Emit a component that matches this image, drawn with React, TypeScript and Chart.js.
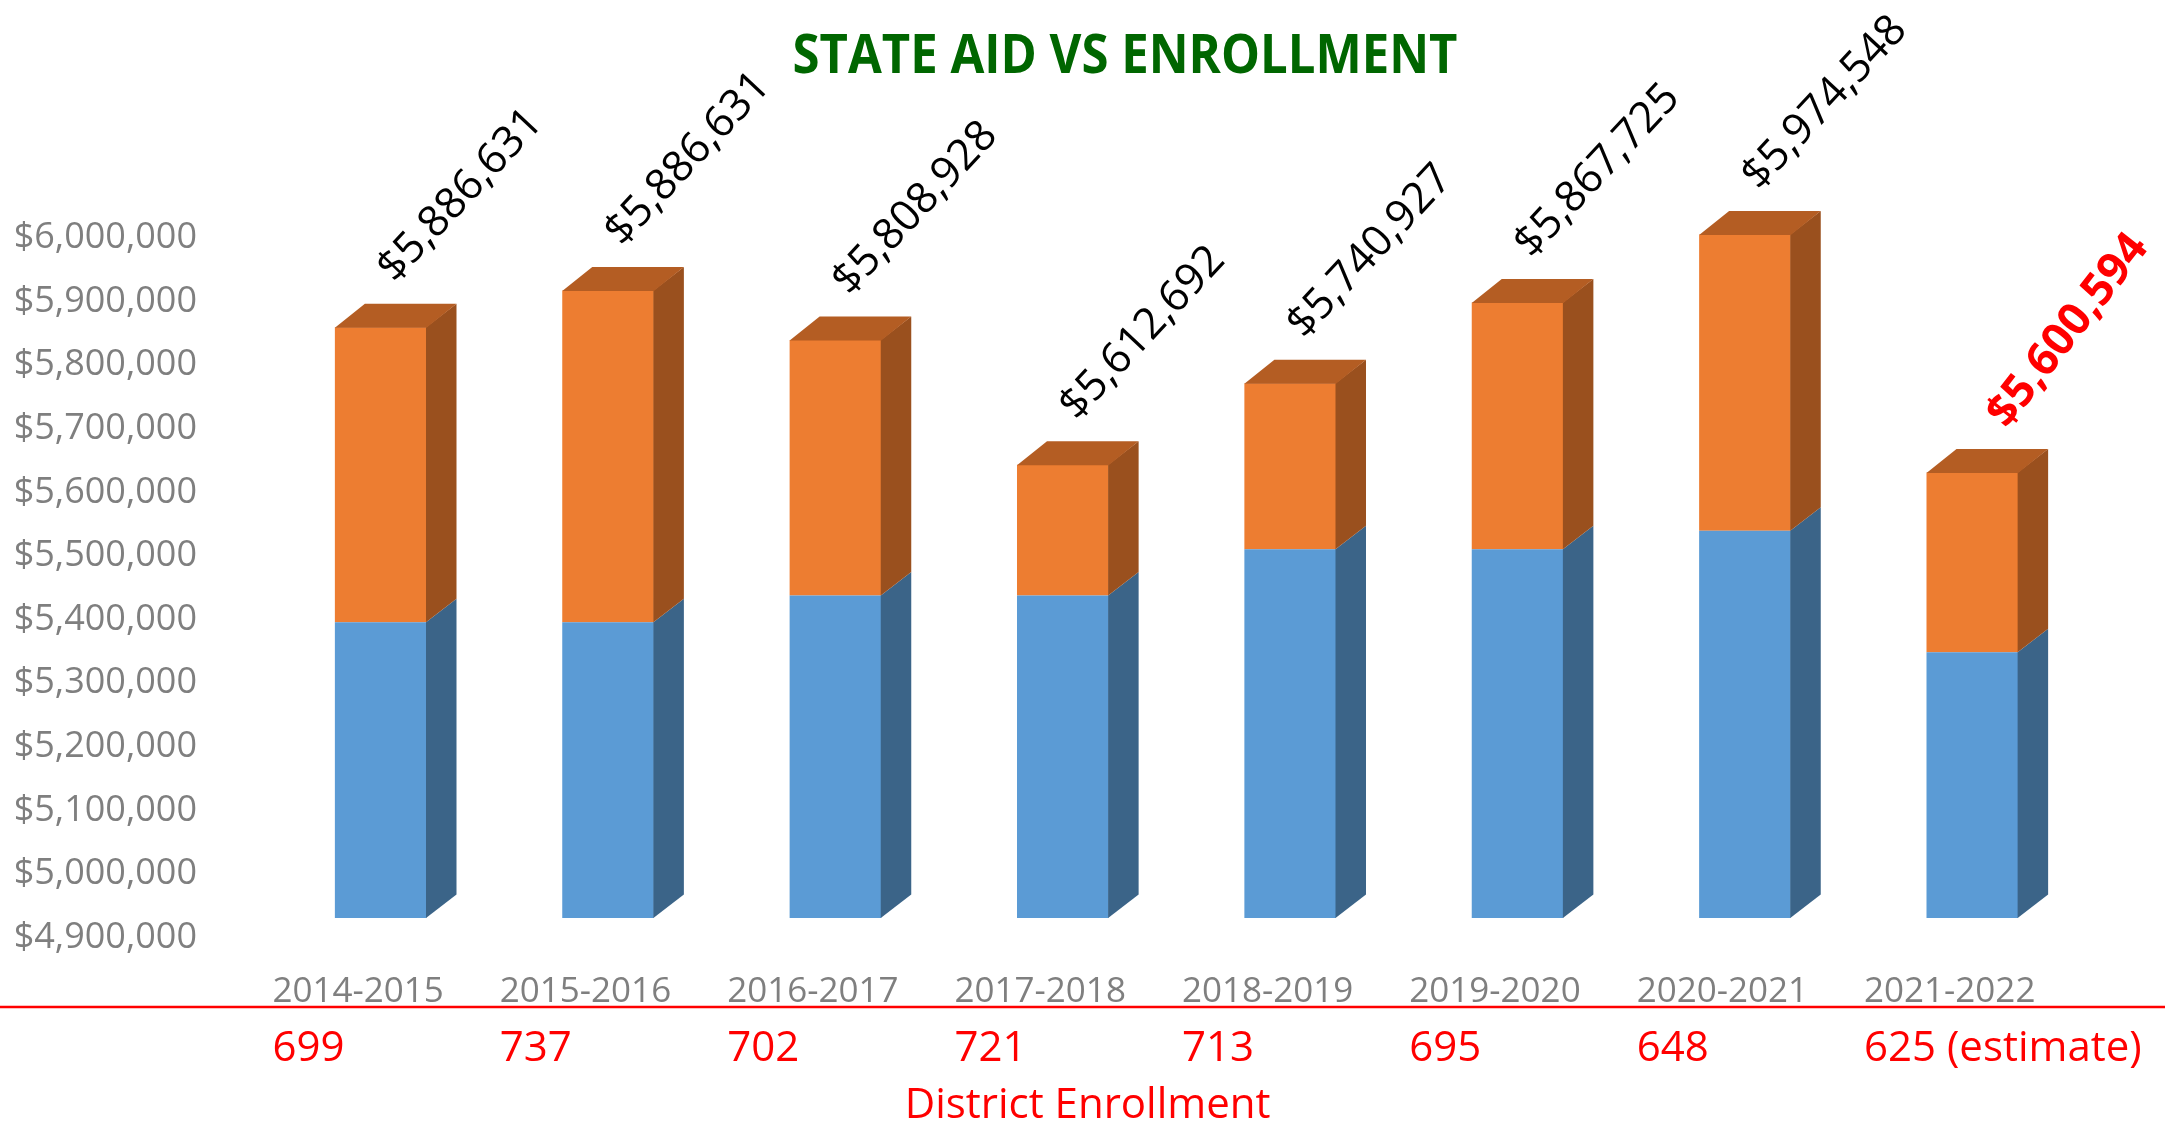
import React, { useEffect, useRef } from 'react';
import { Chart, registerables } from 'chart.js';

Chart.register(...registerables);

// ---------- data ----------
const categories = ['2014-2015', '2015-2016', '2016-2017', '2017-2018', '2018-2019', '2019-2020', '2020-2021', '2021-2022'];
const baseAid = [5365000, 5365000, 5407000, 5407000, 5480000, 5480000, 5509000, 5318000];
const totalAid = [5829000, 5886631, 5808928, 5612692, 5740927, 5867725, 5974548, 5600594];
const totalLabels = ['$5,886,631', '$5,886,631', '$5,808,928', '$5,612,692', '$5,740,927', '$5,867,725', '$5,974,548', '$5,600,594'];
const enrollment = ['699', '737', '702', '721', '713', '695', '648', '625 (estimate)'];
const highlightIndex = 7;

const AXIS_MIN = 4900000;
const AXIS_MAX = 6100000;
const TICK_TOP = 6000000;
const TICK_STEP = 100000;
const FLOOR = 4900000;
const DATA_SHIFT = 30800;

const TITLE = 'STATE AID VS ENROLLMENT';
const ENROLL_TITLE = 'District Enrollment';

// ---------- styles ----------
const W = 2165;
const H = 1125;
const FONT = "'Open Sans', 'DejaVu Sans', sans-serif";
const DX = 30;
const DY = 23.5;
const LABEL_OFFSET = -22.6;
const BLUE = '#5b9bd5';
const BLUE_SIDE = '#3b6488';
const ORANGE = '#ed7d31';
const ORANGE_SIDE = '#9a501e';
const ORANGE_TOP = '#b45d23';
const GRAY = '#7f7f7f';
const RED = '#ff0000';
const GREEN = '#006600';

const threeDPlugin = {
  id: 'threeD',
  afterDatasetsDraw(chart: any) {
    const ctx = chart.ctx;
    chart.data.datasets.forEach((ds: any, di: number) => {
      const meta = chart.getDatasetMeta(di);
      meta.data.forEach((el: any) => {
        const { x, y, base, width } = el.getProps(['x', 'y', 'base', 'width'], true);
        const top = Math.min(y, base);
        const bottom = Math.max(y, base);
        const left = x - width / 2;
        const right = x + width / 2;
        ctx.save();
        ctx.fillStyle = ds.sideColor;
        ctx.beginPath();
        ctx.moveTo(right - 0.5, bottom);
        ctx.lineTo(right - 0.5, top);
        ctx.lineTo(right + DX, top - DY);
        ctx.lineTo(right + DX, bottom - DY);
        ctx.closePath();
        ctx.fill();
        if (ds.topColor) {
          ctx.fillStyle = ds.topColor;
          ctx.beginPath();
          ctx.moveTo(left, top + 0.5);
          ctx.lineTo(left + DX, top - DY);
          ctx.lineTo(right + DX, top - DY);
          ctx.lineTo(right, top + 0.5);
          ctx.closePath();
          ctx.fill();
        }
        ctx.restore();
      });
    });
  },
};

const annotationsPlugin = {
  id: 'annotations',
  afterDraw(chart: any) {
    const ctx = chart.ctx;
    const xScale = chart.scales.x;
    // value labels
    const meta = chart.getDatasetMeta(1);
    meta.data.forEach((el: any, i: number) => {
      const { x, y, base } = el.getProps(['x', 'y', 'base'], true);
      const backTop = Math.min(y, base) - DY;
      const hi = i === highlightIndex;
      ctx.save();
      ctx.translate(x + (hi ? 96 : 80), backTop - (hi ? 118 : 108));
      ctx.rotate(((hi ? -52 : -47) * Math.PI) / 180);
      ctx.font = hi ? `bold 45px ${FONT}` : `43px ${FONT}`;
      ctx.fillStyle = hi ? RED : '#000000';
      ctx.textAlign = 'center';
      ctx.textBaseline = 'middle';
      ctx.fillText(totalLabels[i], 0, 0);
      ctx.restore();
    });

    // title
    ctx.save();
    ctx.font = `bold 53px ${FONT}`;
    ctx.fillStyle = GREEN;
    ctx.textAlign = 'center';
    ctx.textBaseline = 'alphabetic';
    ctx.fillText(TITLE, 1125, 72.7, 665);
    ctx.restore();

    // red separator line
    ctx.save();
    ctx.strokeStyle = RED;
    ctx.lineWidth = 2.5;
    ctx.beginPath();
    ctx.moveTo(0, 1007);
    ctx.lineTo(W, 1007);
    ctx.stroke();
    ctx.restore();

    // enrollment numbers, left aligned under each category label
    ctx.save();
    ctx.font = `35px ${FONT}`;
    const catWidths = categories.map((c) => ctx.measureText(c).width);
    ctx.font = `42px ${FONT}`;
    ctx.fillStyle = RED;
    ctx.textAlign = 'left';
    ctx.textBaseline = 'alphabetic';
    enrollment.forEach((txt, i) => {
      const cx = xScale.getPixelForValue(i) + LABEL_OFFSET;
      ctx.fillText(txt, cx - catWidths[i] / 2, 1061);
    });
    ctx.textAlign = 'center';
    ctx.fillText(ENROLL_TITLE, 1087.6, 1118);
    ctx.restore();
  },
};

export default function App() {
  const canvasRef = useRef<HTMLCanvasElement | null>(null);

  useEffect(() => {
    document.body.style.margin = '0';
    document.body.style.overflow = 'hidden';
    const canvas = canvasRef.current;
    if (!canvas) return;
    const chart = new Chart(canvas, {
      type: 'bar',
      data: {
        labels: categories,
        datasets: [
          {
            label: 'Base',
            data: baseAid.map((v) => [FLOOR, v]) as any,
            backgroundColor: BLUE,
            sideColor: BLUE_SIDE,
            yAxisID: 'yd',
            stack: 'aid',
            categoryPercentage: 1,
            barPercentage: 0.403,
          } as any,
          {
            label: 'Total',
            data: totalAid.map((v, i) => [baseAid[i], v]) as any,
            backgroundColor: ORANGE,
            sideColor: ORANGE_SIDE,
            topColor: ORANGE_TOP,
            yAxisID: 'yd',
            stack: 'aid',
            categoryPercentage: 1,
            barPercentage: 0.403,
          } as any,
        ],
      },
      options: {
        responsive: false,
        animation: false,
        devicePixelRatio: 1,
        layout: { padding: { top: 174.4, left: 0, right: 79, bottom: 0 } },
        plugins: {
          legend: { display: false },
          tooltip: { enabled: false },
          title: { display: false },
        },
        scales: {
          x: {
            type: 'category',
            stacked: true,
            offset: true,
            grid: { display: false },
            border: { display: false },
            ticks: {
              color: GRAY,
              font: { family: FONT, size: 35 },
              padding: 25,
              labelOffset: LABEL_OFFSET,
              maxRotation: 0,
              autoSkip: false,
            },
            afterFit: (s: any) => {
              s.height = 187.4;
            },
          },
          y: {
            type: 'linear',
            position: 'left',
            min: AXIS_MIN,
            max: AXIS_MAX,
            grid: { display: false },
            border: { display: false },
            ticks: {
              stepSize: TICK_STEP,
              maxTicksLimit: 30,
              autoSkip: false,
              color: GRAY,
              font: { family: FONT, size: 36 },
              padding: 62,
              callback: (v: any) => (Number(v) > TICK_TOP ? '' : '$' + Number(v).toLocaleString('en-US')),
            },
            afterFit: (s: any) => {
              s.width = 267;
            },
          },
          yd: {
            type: 'linear',
            position: 'left',
            display: false,
            stacked: false,
            min: AXIS_MIN - DATA_SHIFT,
            max: AXIS_MAX - DATA_SHIFT,
          },
        },
      } as any,
      plugins: [threeDPlugin, annotationsPlugin],
    });
    return () => chart.destroy();
  }, []);

  return (
    <div style={{ position: 'absolute', left: 0, top: 0, width: W, height: H, background: '#ffffff' }}>
      <canvas ref={canvasRef} width={W} height={H} style={{ width: W, height: H, display: 'block' }} />
    </div>
  );
}
